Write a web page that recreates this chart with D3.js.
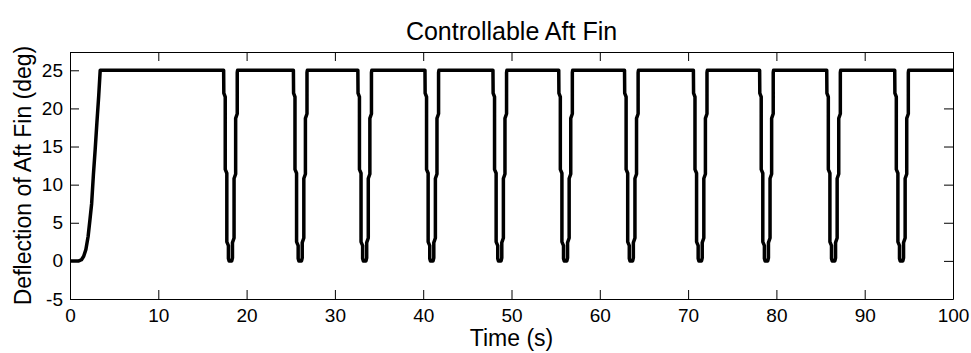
<!DOCTYPE html>
<html>
<head>
<meta charset="utf-8">
<script src="https://cdn.jsdelivr.net/npm/d3@7.9.0/dist/d3.min.js"></script>
<style>
  body { margin: 0; background: #fff; }
  svg { display: block; font-family: "Liberation Sans", Arial, sans-serif; }
  .axis path, .axis line { stroke: #000; stroke-width: 1; }
  .axis text { font-size: 19px; fill: #000; font-family: "Liberation Sans", Arial, sans-serif; }
</style>
</head>
<body>
<svg id="chart" width="971" height="353"></svg>
<script>
// initial spin-up from rest (time s, deflection deg)
const riseTime = [0, 1.0, 1.3, 1.55, 1.8, 2.05, 2.25, 2.45, 2.65, 2.85, 3.05, 3.25, 3.42];
const riseDefl = [0, 0, 0.15, 0.6, 1.5, 3.2, 5.3, 7.5, 11.3, 14.6, 18.2, 21.6, 25];

// time at which each dip starts falling from 25 deg
const dipStarts = [17.4, 25.3, 32.6, 40.2, 47.9, 55.35, 62.8, 70.6, 78.1, 85.7, 93.4];

// shape of one dip: time offset from its start, deflection
const dipOffset = [0, 0.02, 0.18, 0.18, 0.36, 0.36, 0.54, 0.54, 0.62, 0.92, 1.0, 1.0, 1.18, 1.18, 1.36, 1.36, 1.54, 1.54, 1.58];
const dipDefl   = [25, 22, 21.5, 12, 11.5, 2.5, 2, 0.3, 0, 0, 0.4, 2.4, 3, 10.8, 11.4, 18.7, 19.3, 24.7, 25];

const endTime = 100;
const xTicks = [0, 10, 20, 30, 40, 50, 60, 70, 80, 90, 100];
const yTicks = [-5, 0, 5, 10, 15, 20, 25];

const points = riseTime.map((t, i) => [t, riseDefl[i]]);
dipStarts.forEach(t0 => {
    dipOffset.forEach((dt, i) => points.push([t0 + dt, dipDefl[i]]));
});
points.push([endTime, 25]);

const width = 971, height = 353;
const margin = { top: 52, right: 18, bottom: 54, left: 70 };
const svg = d3.select('#chart');

const x = d3.scaleLinear().domain([0, 100]).range([margin.left, width - margin.right]);
const y = d3.scaleLinear().domain([-5, 27.4]).range([height - margin.bottom, margin.top]);

let line = d3.line().x(d => x(d[0])).y(d => y(d[1]));

svg.append('path')
    .datum(points)
    .attr('d', line)
    .attr('fill', 'none')
    .attr('stroke', '#000')
    .attr('stroke-width', 3.5)
    .attr('stroke-linejoin', 'round');

const tick = 9;
const fmt = d => String(d);

svg.append('g').attr('class', 'axis')
    .attr('transform', `translate(0,${height - margin.bottom})`)
    .call(d3.axisBottom(x).tickValues(xTicks).tickFormat(fmt).tickSizeInner(-tick).tickSizeOuter(0).tickPadding(10));

svg.append('g').attr('class', 'axis')
    .attr('transform', `translate(0,${margin.top})`)
    .call(d3.axisTop(x).tickValues(xTicks).tickSizeInner(-tick).tickSizeOuter(0).tickFormat(''));

svg.append('g').attr('class', 'axis')
    .attr('transform', `translate(${margin.left},0)`)
    .call(d3.axisLeft(y).tickValues(yTicks).tickFormat(fmt).tickSizeInner(-tick).tickSizeOuter(0).tickPadding(7));

svg.append('g').attr('class', 'axis')
    .attr('transform', `translate(${width - margin.right},0)`)
    .call(d3.axisRight(y).tickValues(yTicks).tickSizeInner(-tick).tickSizeOuter(0).tickFormat(''));

svg.append('text')
    .attr('x', (x(0) + x(100)) / 2).attr('y', 40)
    .attr('text-anchor', 'middle')
    .attr('font-size', '25px')
    .text('Controllable Aft Fin');

svg.append('text')
    .attr('x', (x(0) + x(100)) / 2).attr('y', 346)
    .attr('text-anchor', 'middle')
    .attr('font-size', '23px')
    .text('Time (s)');

svg.append('text')
    .attr('transform', `translate(31,${(y(-5) + y(27.4)) / 2}) rotate(-90)`)
    .attr('text-anchor', 'middle')
    .attr('font-size', '23px')
    .text('Deflection of Aft Fin (deg)');
</script>
</body>
</html>
